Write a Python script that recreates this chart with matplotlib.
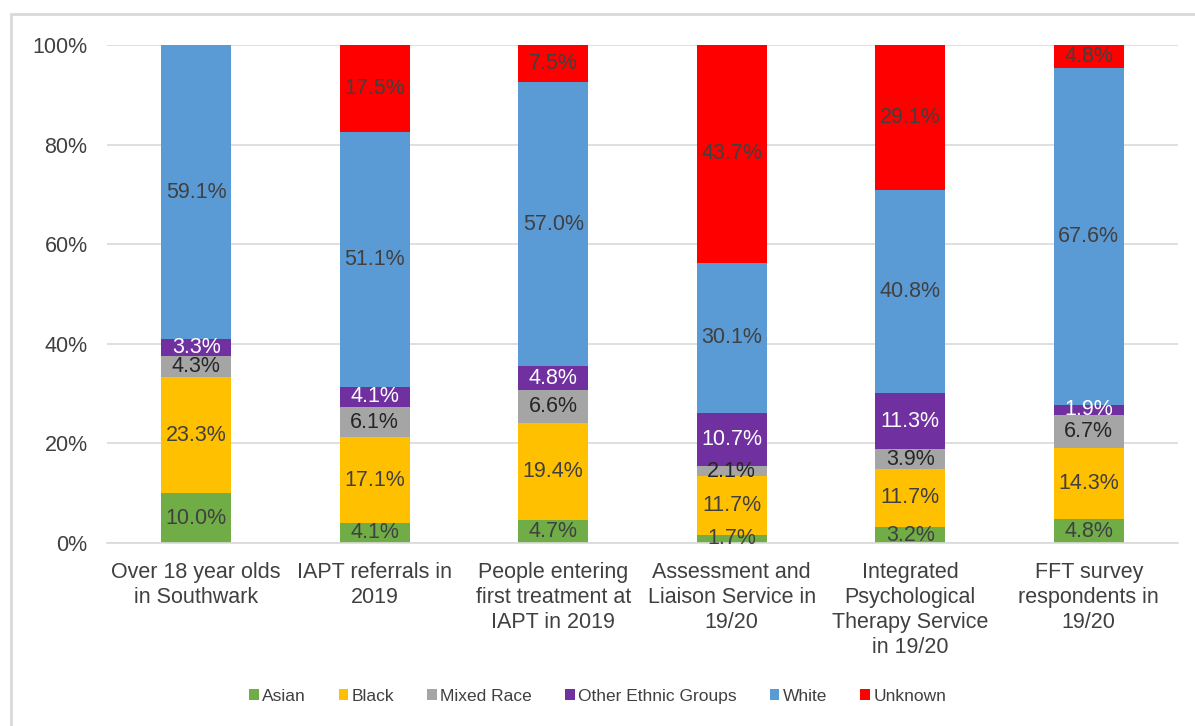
"""Ethnicity breakdown across Southwark IAPT services: 100% stacked bars."""
import matplotlib
matplotlib.use("Agg")
import matplotlib.pyplot as plt
from matplotlib.patches import Rectangle
from matplotlib.ticker import PercentFormatter
import numpy as np

plt.rcParams["font.family"] = ["Liberation Sans", "DejaVu Sans"]

categories = [
    "Over 18 year olds\nin Southwark",
    "IAPT referrals in\n2019",
    "People entering\nfirst treatment at\nIAPT in 2019",
    "Assessment and\nLiaison Service in\n19/20",
    "Integrated\nPsychological\nTherapy Service\nin 19/20",
    "FFT survey\nrespondents in\n19/20",
]
series = ["Asian", "Black", "Mixed Race", "Other Ethnic Groups", "White", "Unknown"]

asian = [10.0, 4.1, 4.7, 1.7, 3.2, 4.8]
black = [23.3, 17.1, 19.4, 11.7, 11.7, 14.3]
mixed = [4.3, 6.1, 6.6, 2.1, 3.9, 6.7]
other = [3.3, 4.1, 4.8, 10.7, 11.3, 1.9]
white = [59.1, 51.1, 57.0, 30.1, 40.8, 67.6]
unknown = [0.0, 17.5, 7.5, 43.7, 29.1, 4.8]

COLORS = ["#70AD47", "#FFC000", "#A5A5A5", "#7030A0", "#5B9BD5", "#FF0000"]
LABEL_COLORS = ["#404040", "#404040", "#262626", "#ffffff", "#404040", "#404040"]


def main() -> None:
    fig = plt.figure(figsize=(11.95, 7.26), dpi=100)
    ax = fig.add_axes([0.0895, 0.252, 0.8963, 0.686])

    x = np.arange(len(categories))
    bottom = np.zeros(len(categories))
    for name, vals, col, lcol in zip(series, [asian, black, mixed, other, white, unknown],
                                     COLORS, LABEL_COLORS):
        vals = np.array(vals)
        ax.bar(x, vals, 0.39, bottom=bottom, color=col, label=name, zorder=2)
        for xi, b, v in zip(x, bottom, vals):
            if v > 0:
                ax.text(xi, b + v / 2, f"{v:.1f}%", ha="center", va="center",
                        fontsize=15.5, color=lcol, zorder=3)
        bottom += vals

    ax.set_xlim(-0.5, len(categories) - 0.5)
    ax.set_ylim(0, 100)
    ax.set_yticks(range(0, 101, 20))
    ax.yaxis.set_major_formatter(PercentFormatter(decimals=0))
    ax.set_xticks(x)
    ax.set_xticklabels(categories, fontsize=15.5, color="#404040", linespacing=1.25)
    ax.tick_params(axis="y", labelsize=15.5, labelcolor="#404040", length=0, pad=14)
    ax.tick_params(axis="x", length=0, pad=14)
    ax.grid(axis="y", color="#d9d9d9", lw=1.2, zorder=0)
    for s in ("top", "right", "left"):
        ax.spines[s].set_visible(False)
    ax.spines["bottom"].set_color("#d9d9d9")
    ax.spines["bottom"].set_linewidth(1.2)

    fig.legend(loc="center", bbox_to_anchor=(0.5, 0.041), ncol=6, frameon=False,
               fontsize=12.5, handlelength=0.55, handleheight=0.6, handletextpad=0.2,
               columnspacing=1.9, labelcolor="#404040")

    fig.patches.append(Rectangle((11 / 1195, -0.1), 2, 1 - 14 / 726 + 0.1,
                                 transform=fig.transFigure, fill=False,
                                 edgecolor="#d9d9d9", lw=2))

    fig.savefig("out.png", dpi=100)


if __name__ == "__main__":
    main()
